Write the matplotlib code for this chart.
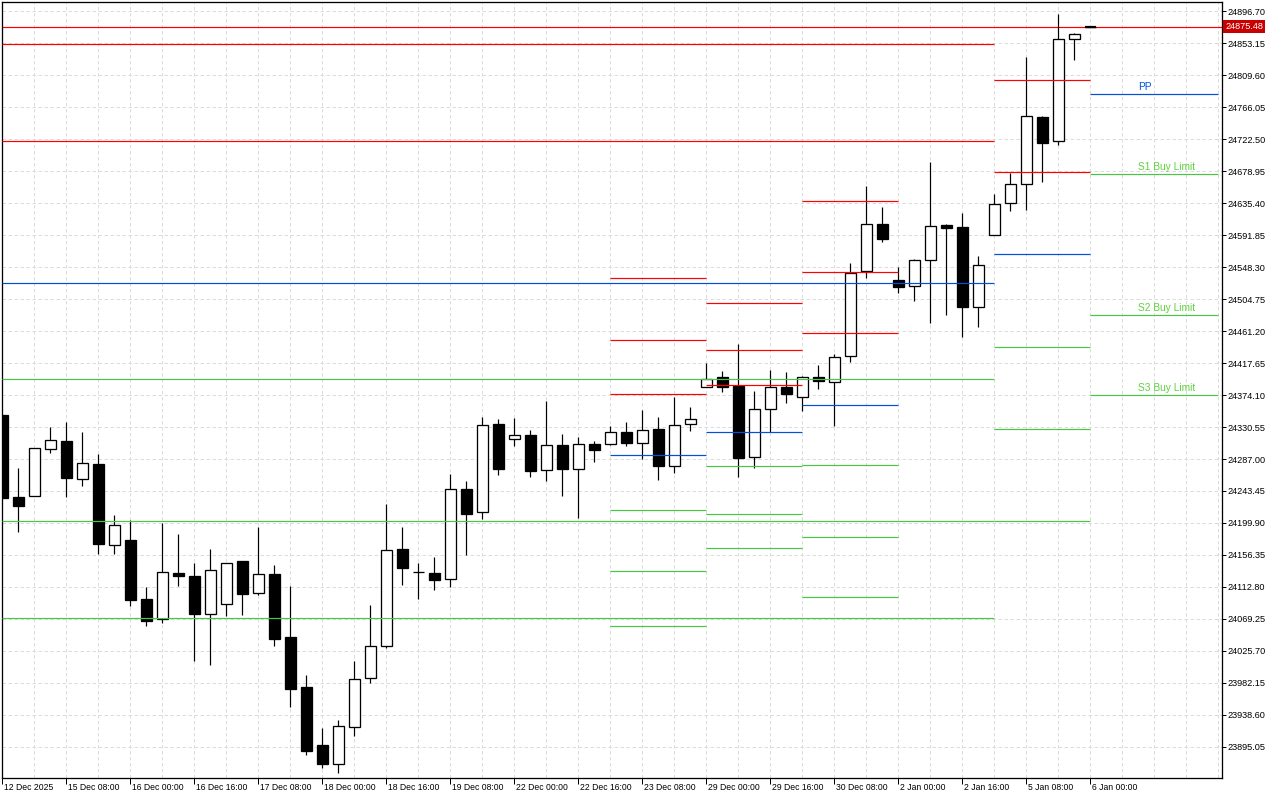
import matplotlib.pyplot as plt
import matplotlib.transforms as mtransforms

# H4 candles, 12 Dec 2025 16:00 .. 6 Jan 2026 00:00
opens = [24346.9, 24234.9, 24237.1, 24301.0, 24311.1, 24260.2, 24280.2, 24170.4, 24176.4, 24096.1,
         24068.8, 24131.9, 24127.8, 24075.6, 24089.3, 24148.2, 24104.2, 24130.5, 24044.3, 23976.7,
         23897.8, 23871.5, 23921.9, 23988.5, 24032.1, 24164.5, 24132.8, 24131.9, 24123.3, 24245.8,
         24214.5, 24334.6, 24313.8, 24319.7, 24271.6, 24306.1, 24273.0, 24307.4, 24307.0, 24323.3,
         24308.4, 24327.8, 24277.1, 24334.2, 24384.6, 24398.2, 24386.8, 24289.3, 24354.6, 24385.0,
         24371.0, 24398.2, 24391.4, 24426.8, 24542.9, 24606.8, 24530.6, 24522.0, 24557.4, 24605.5,
         24602.7, 24493.5, 24591.4, 24635.0, 24660.9, 24752.0, 24719.4, 24858.2, 24875.48]
highs = [24346.9, 24274.3, 24301.6, 24330.1, 24337.4, 24323.7, 24293.8, 24210.8, 24204.0, 24112.4,
         24199.9, 24184.5, 24145.5, 24164.5, 24145.1, 24148.2, 24194.5, 24142.7, 24114.2, 23992.6,
         23920.9, 23931.8, 24011.7, 24088.3, 24225.4, 24194.5, 24145.5, 24153.6, 24266.6, 24257.5,
         24344.2, 24341.4, 24342.8, 24326.1, 24365.9, 24321.0, 24316.5, 24311.1, 24331.9, 24337.4,
         24353.7, 24344.2, 24371.4, 24357.8, 24417.7, 24406.8, 24443.5, 24379.5, 24408.1, 24405.4,
         24400.0, 24414.9, 24429.9, 24553.7, 24658.5, 24630.0, 24548.3, 24559.2, 24691.2, 24606.4,
         24621.8, 24563.3, 24647.7, 24675.8, 24833.7, 24753.4, 24892.6, 24866.4, 24875.48]
lows = [24234.3, 24188.1, 24237.1, 24295.6, 24235.7, 24250.7, 24157.7, 24157.7, 24087.4, 24060.1,
        24064.2, 24114.6, 24012.5, 24006.6, 24073.7, 24075.1, 24101.9, 24032.9, 23949.9, 23884.6,
        23866.9, 23859.3, 23910.4, 23982.6, 24030.2, 24115.9, 24096.5, 24109.1, 24113.2, 24156.4,
        24205.8, 24265.6, 24305.1, 24262.9, 24257.5, 24237.1, 24207.1, 24283.3, 24305.6, 24305.1,
        24287.4, 24258.8, 24268.4, 24325.5, 24384.6, 24378.6, 24262.9, 24275.2, 24323.7, 24363.6,
        24352.7, 24382.7, 24332.3, 24419.4, 24533.7, 24582.7, 24513.3, 24502.4, 24472.5, 24483.4,
        24453.5, 24467.1, 24591.4, 24624.9, 24626.3, 24664.4, 24714.7, 24830.4, 24875.48]
closes = [24234.3, 24223.5, 24301.6, 24312.5, 24261.6, 24281.2, 24171.7, 24196.8, 24095.5, 24066.9,
          24132.8, 24128.2, 24076.5, 24135.5, 24145.1, 24103.7, 24130.1, 24042.4, 23974.4, 23890.0,
          23871.5, 23923.2, 23987.2, 24032.1, 24162.8, 24139.1, 24132.8, 24122.7, 24245.8, 24212.6,
          24332.9, 24273.8, 24319.3, 24271.1, 24305.6, 24273.8, 24307.0, 24299.7, 24323.3, 24309.2,
          24326.1, 24277.9, 24332.9, 24341.0, 24396.3, 24385.4, 24288.8, 24354.6, 24384.6, 24375.9,
          24398.2, 24392.7, 24425.4, 24539.7, 24606.4, 24586.8, 24521.5, 24557.4, 24603.7, 24601.8,
          24494.3, 24550.6, 24633.6, 24660.9, 24753.4, 24717.5, 24858.2, 24865.0, 24875.48]

time_labels = ['12 Dec 2025', '15 Dec 08:00', '16 Dec 00:00', '16 Dec 16:00', '17 Dec 08:00',
               '18 Dec 00:00', '18 Dec 16:00', '19 Dec 08:00', '22 Dec 00:00', '22 Dec 16:00',
               '23 Dec 08:00', '29 Dec 00:00', '29 Dec 16:00', '30 Dec 08:00', '2 Jan 00:00',
               '2 Jan 16:00', '5 Jan 08:00', '6 Jan 00:00']
time_label_bars = [0, 4, 8, 12, 16, 20, 24, 28, 32, 36, 40, 44, 48, 52, 56, 60, 64, 68]

price_ticks = [23895.05, 23938.60, 23982.15, 24025.70, 24069.25, 24112.80, 24156.35, 24199.90,
               24243.45, 24287.00, 24330.55, 24374.10, 24417.65, 24461.20, 24504.75, 24548.30,
               24591.85, 24635.40, 24678.95, 24722.50, 24766.05, 24809.60, 24853.15, 24896.70]
bid_price = 24875.48

# daily pivots: (first bar, last bar, resistances, pivot, supports)
pivot_first = [38, 44, 50, 0, 62]
pivot_last = [44, 50, 56, 62, 68]
pivot_r = [[24532.9, 24448.5, 24375.1],
           [24498.9, 24434.9, 24387.3],
           [24637.7, 24541.1, 24458.1],
           [24851.8, 24719.8],
           [24802.4, 24677.2]]
pivot_pp = [24292.0, 24323.3, 24360.1, 24525.9, 24565.6]
pivot_s = [[24217.2, 24134.2, 24059.7],
           [24277.5, 24212.2, 24165.5],
           [24278.4, 24180.4, 24098.8],
           [24395.9, 24202.6, 24070.6],
           [24439.4, 24327.8, 24202.0]]

# current day levels with labels
today_first, today_last = 68, 76
today_levels = [24783.7, 24674.9, 24483.0, 24374.1]
today_names = ['PP', 'S1 Buy Limit', 'S2 Buy Limit', 'S3 Buy Limit']

RED = '#ff0000'
BLUE = '#0050dc'
GREEN = '#46c846'
px = 72 / 100  # one pixel in points

plt.rcParams['font.family'] = ['Liberation Sans', 'DejaVu Sans']

fig = plt.figure(figsize=(12.8, 8), dpi=100)
ax = fig.add_axes([2 / 1280, 22 / 800, 1220 / 1280, 776 / 800])
ax.set_xlim(-0.02, 76.23)
ax.set_ylim(23852.86, 24908.95)

# grid
for p in price_ticks:
    ax.axhline(p, color='#dcdcdc', lw=px, ls=(0, (3.5, 2.5)), zorder=0)
for i in range(2, 77, 2):
    ax.axvline(i, color='#dcdcdc', lw=px, ls=(0, (3.5, 2.5)), zorder=0)

# bid line (under the candles)
ax.axhline(bid_price, color=RED, lw=px * 1.2, zorder=1)

# candles
for i in range(len(opens)):
    o, h, l, c = opens[i], highs[i], lows[i], closes[i]
    ax.vlines(i, l, h, color='black', lw=px * 1.2, zorder=2)
    face = 'white' if c > o else 'black'
    ax.bar(i, abs(c - o), bottom=min(o, c), width=0.66, color=face,
           edgecolor='black', linewidth=px * 1.3, zorder=3)
# current forming bar shows as a thick dash
ax.hlines(closes[-1], len(closes) - 1.33, len(closes) - 0.67, color='black', lw=px * 2.2, zorder=3)

# pivot levels
for k in range(len(pivot_pp)):
    x0, x1 = pivot_first[k], pivot_last[k]
    if x0 == 0:
        x0 = -0.02
    for r in pivot_r[k]:
        ax.hlines(r, x0, x1, color=RED, lw=px * 1.2, zorder=4)
    ax.hlines(pivot_pp[k], x0, x1, color=BLUE, lw=px * 1.2, zorder=4)
    for s in pivot_s[k]:
        ax.hlines(s, x0, x1, color=GREEN, lw=px * 1.2, zorder=4)

for lvl, name in zip(today_levels, today_names):
    col = BLUE if name == 'PP' else GREEN
    txt_col = BLUE if name == 'PP' else '#5cd23c'
    ax.hlines(lvl, today_first, today_last, color=col, lw=px * 1.2, zorder=4)
    ax.text(today_first + 3, lvl + 3, name, color=txt_col, fontsize=7.3,
            ha='left', va='bottom', zorder=5)

# axes
for sp in ax.spines.values():
    sp.set_color('black')
    sp.set_linewidth(px * 1.3)

ax.yaxis.tick_right()
ax.set_yticks(price_ticks)
ax.set_yticklabels([f'{p:.2f}' for p in price_ticks])
ax.tick_params(axis='y', length=4 * px, width=px, pad=1, labelsize=6.6, colors='black')

ax.set_xticks(time_label_bars)
ax.set_xticklabels(time_labels)
ax.tick_params(axis='x', length=6 * px, width=px, pad=-0.8, labelsize=6.2, colors='black')
shift = mtransforms.ScaledTranslation(2 / 100, 0, fig.dpi_scale_trans)
for lab in ax.get_xticklabels():
    lab.set_ha('left')
    lab.set_transform(lab.get_transform() + shift)

bt = mtransforms.blended_transform_factory(ax.transAxes, ax.transData)
ax.text(1 + 3 / 1220, bid_price, f'{bid_price:.2f}', transform=bt, color='white',
        fontsize=6.6, ha='left', va='center',
        bbox=dict(facecolor='#c80000', edgecolor='none', pad=1.2), zorder=6)

fig.savefig('out.png', dpi=100)
